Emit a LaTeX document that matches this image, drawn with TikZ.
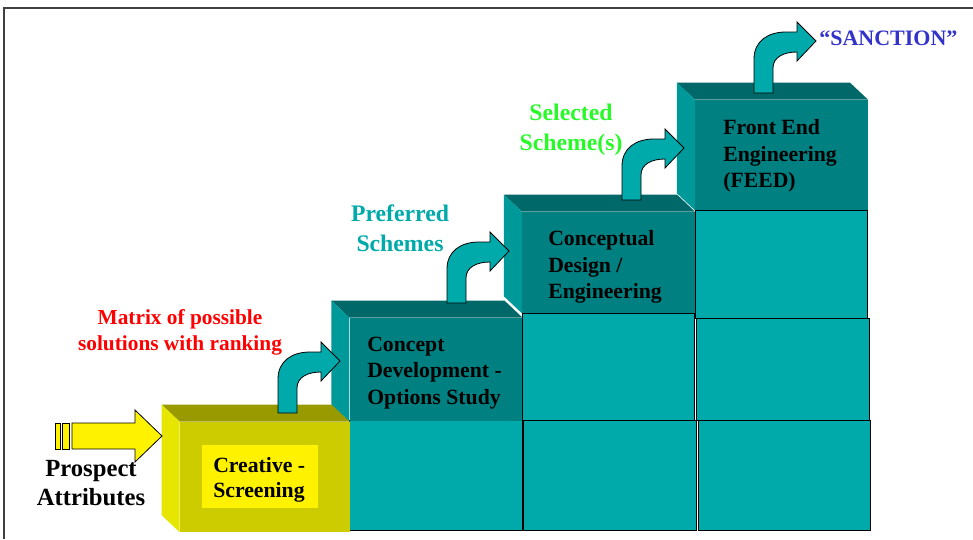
\documentclass[tikz,border=0pt]{standalone}
\usepackage{fontspec}
\setmainfont{Liberation Serif}
\usetikzlibrary{calc}

\definecolor{tealtop}{RGB}{0,104,104}
\definecolor{tealfront}{RGB}{0,128,128}
\definecolor{tealside}{RGB}{0,153,153}
\definecolor{tealblock}{RGB}{0,170,170}
\definecolor{olivetop}{RGB}{153,153,0}
\definecolor{olivefront}{RGB}{204,204,0}
\definecolor{oliveside}{RGB}{230,230,0}
\definecolor{sanctionblue}{RGB}{51,51,204}
\definecolor{schemegreen}{RGB}{40,250,40}

\begin{document}
\begin{tikzpicture}[x=0.75pt, y=-0.75pt,
    block/.style={draw=black, line width=0.6pt, fill=tealblock, inner sep=0pt, minimum width=129.5pt},
    frontface/.style={inner sep=0pt, minimum width=129.5pt},
    boxtext/.style={anchor=west, inner sep=0pt, align=left, font=\fontsize{16.3}{19.8}\selectfont\bfseries},
    notetext/.style={inner sep=0pt, align=center, font=\fontsize{17.8}{22.2}\selectfont\bfseries},
    blockarrow/.style={fill=tealblock, draw=black, line width=0.6pt},
    bentarrow/.pic={
        \draw[blockarrow] (0,0) -- (0,-34) .. controls (0,-52) and (14,-61) .. (32,-61)
            -- (43,-61) -- (43,-71) -- (62,-52) -- (43,-32) -- (43,-41)
            .. controls (30,-41) and (19,-36) .. (19,-25) -- (19,0) -- cycle;
    }]
    \useasboundingbox (0,0) rectangle (973,539);
    % frame
    \draw[black!75, line width=1.5pt] (4,539) -- (4,8) -- (973,8);

    % stacked blocks under the steps
    \node[block, minimum height=82.5pt] (b21) at (436,475.5) {};
    \node[block, minimum height=80.25pt] (b31) at (608.5,366.5) {};
    \node[block, minimum height=82.5pt] (b32) at (610,475) {};
    \node[block, minimum height=81pt] (b41) at (781.5,264) {};
    \node[block, minimum height=76.5pt] (b42) at (783,369) {};
    \node[block, minimum height=82.5pt] (b43) at (784.5,475) {};

    % front faces of the steps
    \node[frontface, fill=olivefront, minimum width=127.5pt, minimum height=82.5pt] (f1) at (265,477) {};
    \node[frontface, fill=tealfront, minimum height=77.25pt] (f2) at (436,369.5) {};
    \node[frontface, fill=tealfront, minimum height=75.75pt] (f3) at (608.5,262.5) {};
    \node[frontface, fill=tealfront, minimum height=82.5pt] (f4) at (781.5,155) {};

    % top and left faces
    \foreach \f/\tc/\sc in {f1/olivetop/oliveside, f2/tealtop/tealside, f3/tealtop/tealside, f4/tealtop/tealside} {
        \fill[\tc] (\f.north west) -- (\f.north east) -- ($(\f.north east)+(-18,-17)$) -- ($(\f.north west)+(-18,-17)$) -- cycle;
        \fill[\sc] (\f.north west) -- ($(\f.north west)+(-18,-17)$) -- ($(\f.south west)+(-18,-17)$) -- (\f.south west) -- cycle;
    }

    % step labels
    \node[fill=yellow, inner sep=0pt, minimum width=87pt, minimum height=47.25pt] (creative) at (260,476.5) {};
    \node[boxtext, font=\fontsize{16.3}{18.75}\selectfont\bfseries] (t1) at (213,479.5) {Creative -\\Screening};
    \node[boxtext] (t2) at (367,373) {Concept\\Development -\\Options Study};
    \node[boxtext] (t3) at (548,267) {Conceptual\\Design /\\Engineering};
    \node[boxtext] (t4) at (723,156) {Front End\\Engineering\\(FEED)};

    % outputs between steps
    \node[notetext, font=\fontsize{18.5}{21.75}\selectfont\bfseries] (prospect) at (91,483.5) {Prospect\\Attributes};
    \node[notetext, text=red, font=\fontsize{16}{19.5}\selectfont\bfseries] (matrix) at (180,332) {Matrix of possible\\solutions with ranking};
    \node[notetext, text=tealblock] (preferred) at (400,228) {Preferred\\Schemes};
    \node[notetext, text=schemegreen] (selected) at (571,129.5) {Selected\\Scheme(s)};
    \node[anchor=west, inner sep=0pt, text=sanctionblue, font=\fontsize{16.5}{20}\selectfont\bfseries] (sanction) at (819,38) {“SANCTION”};

    % input arrow
    \coordinate (intip) at (162,436);
    \draw[fill=yellow, line width=0.6pt] (55,423) rectangle (60,449);
    \draw[fill=yellow, line width=0.6pt] (62.5,423) rectangle (69,449);
    \draw[fill=yellow, line width=0.6pt] (72,423) -- (135,423) -- (135,410) -- (intip) -- (135,462) -- (135,449) -- (72,449) -- cycle;

    % step arrows
    \pic at (278,413) {bentarrow};
    \pic at (447,303) {bentarrow};
    \pic at (622,200) {bentarrow};
    \pic at (754,93) {bentarrow};
\end{tikzpicture}
\end{document}
